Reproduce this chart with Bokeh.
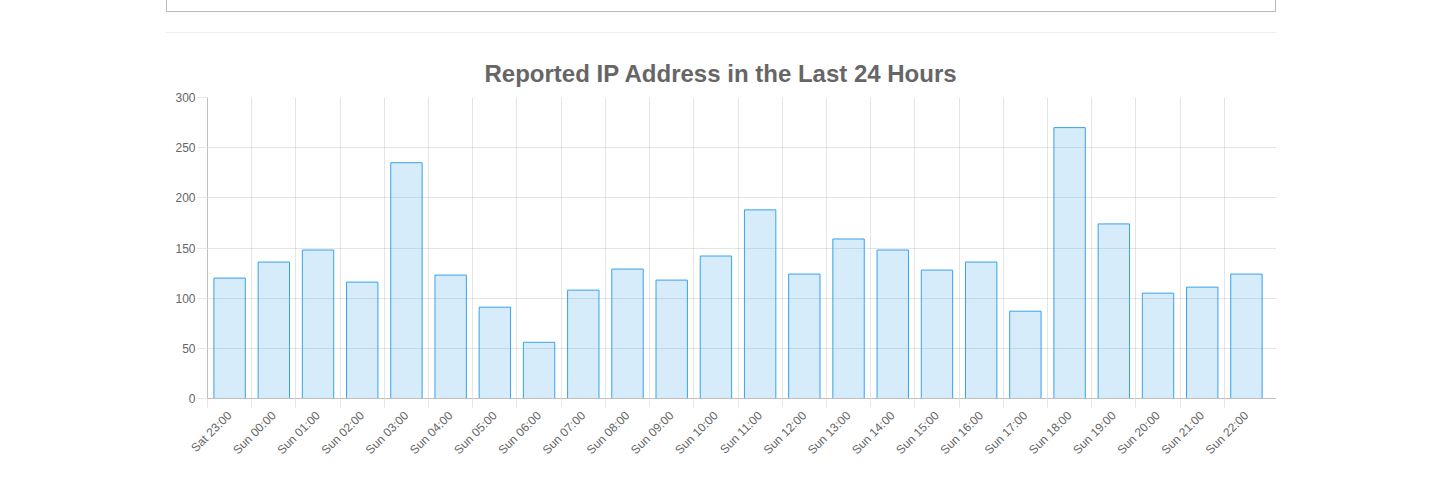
import math
from bokeh.plotting import figure
from bokeh.models import Range1d, FixedTicker, CustomJSTickFormatter, Div, ColumnDataSource
from bokeh.layouts import column
from bokeh.embed import file_html
from bokeh.resources import INLINE

hours = ["Sat 23:00", "Sun 00:00", "Sun 01:00", "Sun 02:00", "Sun 03:00", "Sun 04:00",
         "Sun 05:00", "Sun 06:00", "Sun 07:00", "Sun 08:00", "Sun 09:00", "Sun 10:00",
         "Sun 11:00", "Sun 12:00", "Sun 13:00", "Sun 14:00", "Sun 15:00", "Sun 16:00",
         "Sun 17:00", "Sun 18:00", "Sun 19:00", "Sun 20:00", "Sun 21:00", "Sun 22:00"]
counts = [120, 136, 148, 116, 235, 123, 91, 56, 108, 129, 118, 142,
          188, 124, 159, 148, 128, 136, 87, 270, 174, 105, 111, 124]
y_ticks = [0, 50, 100, 150, 200, 250, 300]
title_text = "Reported IP Address in the Last 24 Hours"

FONT = "Liberation Sans"
n = len(hours)
centers = [i + 0.5 for i in range(n)]
bounds = list(range(n))
src = ColumnDataSource(dict(x=centers, top=counts, label=hours))

p = figure(width=1110, height=440, output_backend="svg", toolbar_location=None,
           x_range=Range1d(0, n + 0.18), y_range=Range1d(0, 300),
           min_border_left=41, min_border_right=0, min_border_top=64, min_border_bottom=75)
p.margin = (0, 0, 0, 166)
p.outline_line_color = None
p.background_fill_color = "white"
p.border_fill_color = "white"

p.title.text = title_text
p.title.text_font = FONT
p.title.text_font_size = "24px"
p.title.text_font_style = "bold"
p.title.text_color = "#666666"
p.title.align = "left"
p.title.offset = 277
p.title.standoff = 21

p.vbar(x="x", top="top", bottom=0, width=0.71, source=src,
       fill_color="#36a2eb", fill_alpha=0.2, line_color="#36a2eb", line_width=1)

# grids
p.xgrid.ticker = FixedTicker(ticks=bounds)
p.xgrid.grid_line_color = "black"
p.xgrid.grid_line_alpha = 0.1
p.ygrid.ticker = FixedTicker(ticks=y_ticks)
p.ygrid.grid_line_color = "black"
p.ygrid.grid_line_alpha = 0.1

# y axis
ya = p.yaxis[0]
ya.ticker = FixedTicker(ticks=y_ticks)
ya.axis_line_color = "#bfbfbf"
ya.major_tick_out = 10
ya.major_tick_in = 0
ya.major_tick_line_color = "#e6e6e6"
ya.minor_tick_line_color = None
ya.major_label_standoff = 2
ya.major_label_text_font = FONT
ya.major_label_text_font_size = "12px"
ya.major_label_text_color = "#666666"

# x axis
xa = p.xaxis[0]
xa.ticker = FixedTicker(ticks=centers, minor_ticks=bounds)
xa.formatter = CustomJSTickFormatter(args=dict(labels=hours),
                                     code="return labels[Math.floor(tick)];")
xa.axis_line_color = "#bfbfbf"
xa.major_tick_out = 0
xa.major_tick_in = 0
xa.minor_tick_out = 9
xa.minor_tick_in = 0
xa.minor_tick_line_color = "#e6e6e6"
xa.major_label_orientation = math.pi / 4
xa.major_label_standoff = 6
xa.major_label_text_font = FONT
xa.major_label_text_font_size = "12px"
xa.major_label_text_color = "#666666"

box = Div(text="", width=1110, height=12, margin=(0, 0, 0, 166),
          styles={"border-left": "1px solid #bbbbbb", "border-right": "1px solid #bbbbbb",
                  "border-bottom": "1px solid #bbbbbb", "box-sizing": "border-box"})
rule = Div(text="", width=1110, height=1, margin=(20, 0, 0, 166),
           styles={"background-color": "#eeeeee"})

layout = column(box, rule, p, spacing=0)
open("out.html", "w").write(file_html(layout, INLINE))
